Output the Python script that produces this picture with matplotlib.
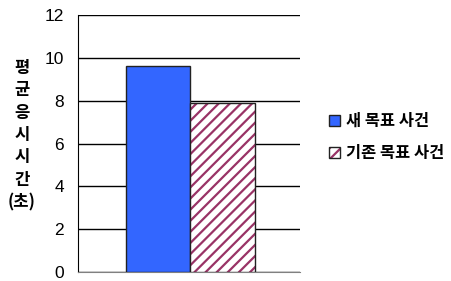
import matplotlib
matplotlib.use("Agg")
import matplotlib.pyplot as plt
from matplotlib.patches import Patch
from matplotlib.legend_handler import HandlerTuple

plt.rcParams['font.family'] = ['Noto Sans CJK KR', 'DejaVu Sans']
plt.rcParams['hatch.linewidth'] = 1.6

# data
series = ['새 목표 사건', '기존 목표 사건']
values = [9.6, 7.9]
yticks = [0, 2, 4, 6, 8, 10, 12]
ylabel_chars = ['평', '균', '응', '시', '시', '간', '(초)']

blue = '#3366ff'
maroon = '#993366'

fig = plt.figure(figsize=(4.51, 2.81), dpi=100)
ax = fig.add_axes([78/451, 9/281, 222/451, 257/281])

b1 = ax.bar(0, values[0], width=1, color=blue, edgecolor='#222222', linewidth=1, zorder=3)
ax.bar(1, values[1], width=1, color='white', edgecolor=maroon, hatch='///', linewidth=0, zorder=3)
ax.bar(1, values[1], width=1, color='none', edgecolor='#222222', linewidth=1, zorder=4)

ax.set_xlim(-1.24, 2.2)
ax.set_ylim(0, 12)
ax.set_yticks(yticks)
ax.set_yticklabels([str(t) for t in yticks], fontsize=12.5, family='Liberation Sans')
ax.set_xticks([])
ax.tick_params(axis='y', length=0, pad=10)
ax.yaxis.grid(True, color='black', linewidth=1)
ax.set_axisbelow(True)
for s in ['top', 'right']:
    ax.spines[s].set_visible(False)
ax.spines['left'].set_color('black')
ax.spines['bottom'].set_color('#808080')

fig.text(22/451, 1 - 135/281, '\n'.join(ylabel_chars), ha='center', va='center',
         fontsize=12, fontweight='bold', linespacing=1.31)

h_hatch = Patch(facecolor='white', edgecolor=maroon, hatch='///', linewidth=0)
h_edge = Patch(facecolor='none', edgecolor='#222222', linewidth=1)
fig.legend(handles=[b1, (h_hatch, h_edge)], labels=series, loc='center left',
           bbox_to_anchor=(329/451, 1 - 137/281), frameon=False,
           borderpad=0, borderaxespad=0,
           handler_map={tuple: HandlerTuple(ndivide=1, pad=0)},
           handlelength=0.65, handleheight=0.65, handletextpad=0.4,
           labelspacing=0.85, prop={'size': 11.8, 'weight': 'bold'})

fig.savefig('out.png', dpi=100)
